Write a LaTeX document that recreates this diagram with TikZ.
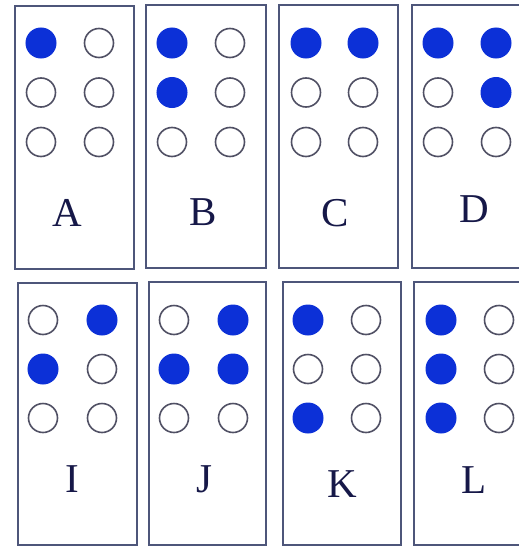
\documentclass[tikz,border=0pt]{standalone}
\usepackage{fontspec}
\setmainfont{Liberation Serif}
\definecolor{dotblue}{RGB}{12,48,215}
\definecolor{ring}{RGB}{80,80,100}
\definecolor{framecol}{RGB}{78,86,122}
\definecolor{ink}{RGB}{22,24,72}
\tikzset{
  cellbox/.style={draw=framecol, line width=2pt, anchor=north west, inner sep=0pt},
  dot1/.style={circle, fill=dotblue, draw=dotblue, line width=1pt, minimum size=30pt, inner sep=0pt},
  dot0/.style={circle, fill=white, draw=ring, line width=1.6pt, minimum size=29pt, inner sep=0pt},
  lab/.style={anchor=base, text=ink, font=\fontsize{41}{41}\selectfont, inner sep=0pt}
}
\newcommand\cellDots[6]{%
  \foreach \s [count=\i from 0] in {#6}{%
    \pgfmathtruncatemacro\rr{int(\i/2)}%
    \pgfmathtruncatemacro\cc{mod(\i,2)}%
    \pgfmathsetmacro\xx{\cc==0 ? #2 : #3}%
    \pgfmathsetmacro\yy{#4 + \rr*#5}%
    \node[dot\s] (#1-\i) at (\xx,\yy) {};
  }}
\begin{document}
\begin{tikzpicture}[x=1pt, y=-1pt]
\useasboundingbox (0,0) rectangle (519,546);
\clip (0,0) rectangle (519,546);
% boxes, top row
\node[cellbox, minimum width=119pt, minimum height=263pt] (boxA) at (14,5) {};
\node[cellbox, minimum width=120pt, minimum height=263pt] (boxB) at (145,4) {};
\node[cellbox, minimum width=119pt, minimum height=263pt] (boxC) at (278,4) {};
\node[cellbox, minimum width=125pt, minimum height=263pt] (boxD) at (411,4) {};
% boxes, bottom row
\node[cellbox, minimum width=119pt, minimum height=262pt] (boxI) at (17,282) {};
\node[cellbox, minimum width=117pt, minimum height=263pt] (boxJ) at (148,281) {};
\node[cellbox, minimum width=118pt, minimum height=263pt] (boxK) at (282,281) {};
\node[cellbox, minimum width=125pt, minimum height=263pt] (boxL) at (413,281) {};
% dots
\cellDots{A}{41}{99}{43}{49.5}{1,0,0,0,0,0}
\cellDots{B}{172}{230}{43}{49.5}{1,0,1,0,0,0}
\cellDots{C}{306}{363}{43}{49.5}{1,1,0,0,0,0}
\cellDots{D}{438}{496}{43}{49.5}{1,1,0,1,0,0}
\cellDots{I}{43}{102}{320}{49}{0,1,1,0,0,0}
\cellDots{J}{174}{233}{320}{49}{0,1,1,1,0,0}
\cellDots{K}{308}{366}{320}{49}{1,0,0,0,1,0}
\cellDots{L}{441}{499}{320}{49}{1,0,1,0,1,0}
% labels
\node[lab] (labA) at (67,226) {A};
\node[lab] (labB) at (203,225) {B};
\node[lab] (labC) at (335,226) {C};
\node[lab] (labD) at (474,222) {D};
\node[lab] (labI) at (72,492) {I};
\node[lab] (labJ) at (204,492) {J};
\node[lab] (labK) at (342,497) {K};
\node[lab] (labL) at (474,493) {L};
\end{tikzpicture}
\end{document}
